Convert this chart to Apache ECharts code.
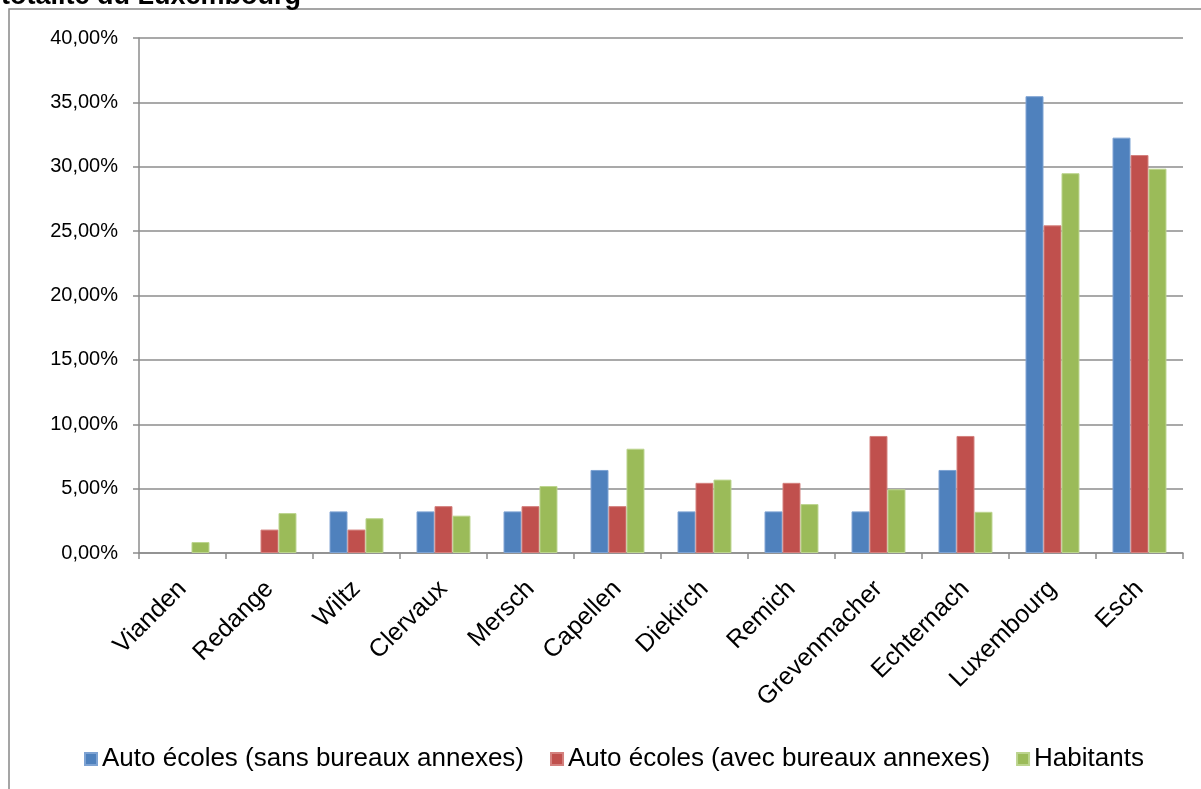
<!DOCTYPE html>
<html>
<head>
<meta charset="utf-8">
<script src="https://cdn.jsdelivr.net/npm/echarts@6/dist/echarts.min.js"></script>
<style>
	html, body { margin: 0; padding: 0; background: #fff; }
	#chart { width: 1201px; height: 789px; }
</style>
</head>
<body>
<div id="chart"></div>
<script>
// communes (axe X)
var categories = ['Vianden', 'Redange', 'Wiltz', 'Clervaux', 'Mersch', 'Capellen', 'Diekirch', 'Remich', 'Grevenmacher', 'Echternach', 'Luxembourg', 'Esch']
// valeurs en %
var sansAnnexes = [0, 0, 3.23, 3.23, 3.23, 6.45, 3.23, 3.23, 3.23, 6.45, 35.48, 32.26]
var avecAnnexes = [0, 1.82, 1.82, 3.64, 3.64, 3.64, 5.45, 5.45, 9.09, 9.09, 25.45, 30.91]
var habitants = [0.85, 3.1, 2.7, 2.9, 5.2, 8.1, 5.7, 3.8, 4.95, 3.2, 29.5, 29.85]
var seriesNames = ['Auto écoles (sans bureaux annexes)', 'Auto écoles (avec bureaux annexes)', 'Habitants']

var chart = echarts.init(document.getElementById('chart'))
var font = '"Liberation Sans", Arial, sans-serif'

function bar(name, data, color, border) {
	return {
		name: name,
		type: 'bar',
		// pas de trait pour les valeurs nulles
		data: data.map(function (v) { return v === 0 ? null : v }),
		barGap: '0%',
		barCategoryGap: '38%',
		itemStyle: { color: color, borderColor: border, borderWidth: 1 }
	}
}

chart.setOption({
	animation: false,
	backgroundColor: '#fff',
	textStyle: { fontFamily: font },
	graphic: [
		{
			// cadre du graphique (coupé à droite et en bas)
			type: 'rect',
			shape: { x: 9, y: 9, width: 1300, height: 900 },
			style: { fill: 'none', stroke: '#888', lineWidth: 1.5 }
		},
		{
			// titre tronqué en haut
			type: 'text',
			x: 301,
			y: 10,
			style: {
				text: 'sur la totalité du Luxembourg',
				font: 'bold 27px ' + font,
				fill: '#000',
				textAlign: 'right',
				textVerticalAlign: 'bottom'
			}
		}
	],
	legend: {
		data: seriesNames,
		left: 84,
		top: 746,
		padding: 0,
		itemWidth: 12,
		itemHeight: 12,
		itemGap: 26,
		icon: 'rect',
		textStyle: { fontSize: 26, color: '#000', fontFamily: font }
	},
	grid: {
		left: 139,
		right: 18,
		top: 38,
		bottom: 236
	},
	xAxis: {
		type: 'category',
		data: categories,
		axisLine: { lineStyle: { color: '#8c8c8c', width: 1.5 } },
		axisTick: { show: true, length: 6, lineStyle: { color: '#8c8c8c', width: 1.5 } },
		axisLabel: {
			rotate: 45,
			margin: 32,
			fontSize: 25,
			color: '#000',
			fontFamily: font,
			interval: 0
		}
	},
	yAxis: {
		type: 'value',
		min: 0,
		max: 40,
		interval: 5,
		axisLine: { show: true, lineStyle: { color: '#8c8c8c', width: 1.5 } },
		axisTick: { show: true, length: 6, lineStyle: { color: '#8c8c8c', width: 1.5 } },
		splitLine: { lineStyle: { color: '#8c8c8c', width: 1.5 } },
		axisLabel: {
			margin: 21,
			fontSize: 20,
			color: '#000',
			fontFamily: font,
			formatter: function (v) {
				return v.toFixed(2).replace('.', ',') + '%'
			}
		}
	},
	series: [
		bar(seriesNames[0], sansAnnexes, '#4F81BD', '#7ea3d3'),
		bar(seriesNames[1], avecAnnexes, '#C0504D', '#d4817e'),
		bar(seriesNames[2], habitants, '#9BBB59', '#bcd48e')
	]
})
</script>
</body>
</html>
